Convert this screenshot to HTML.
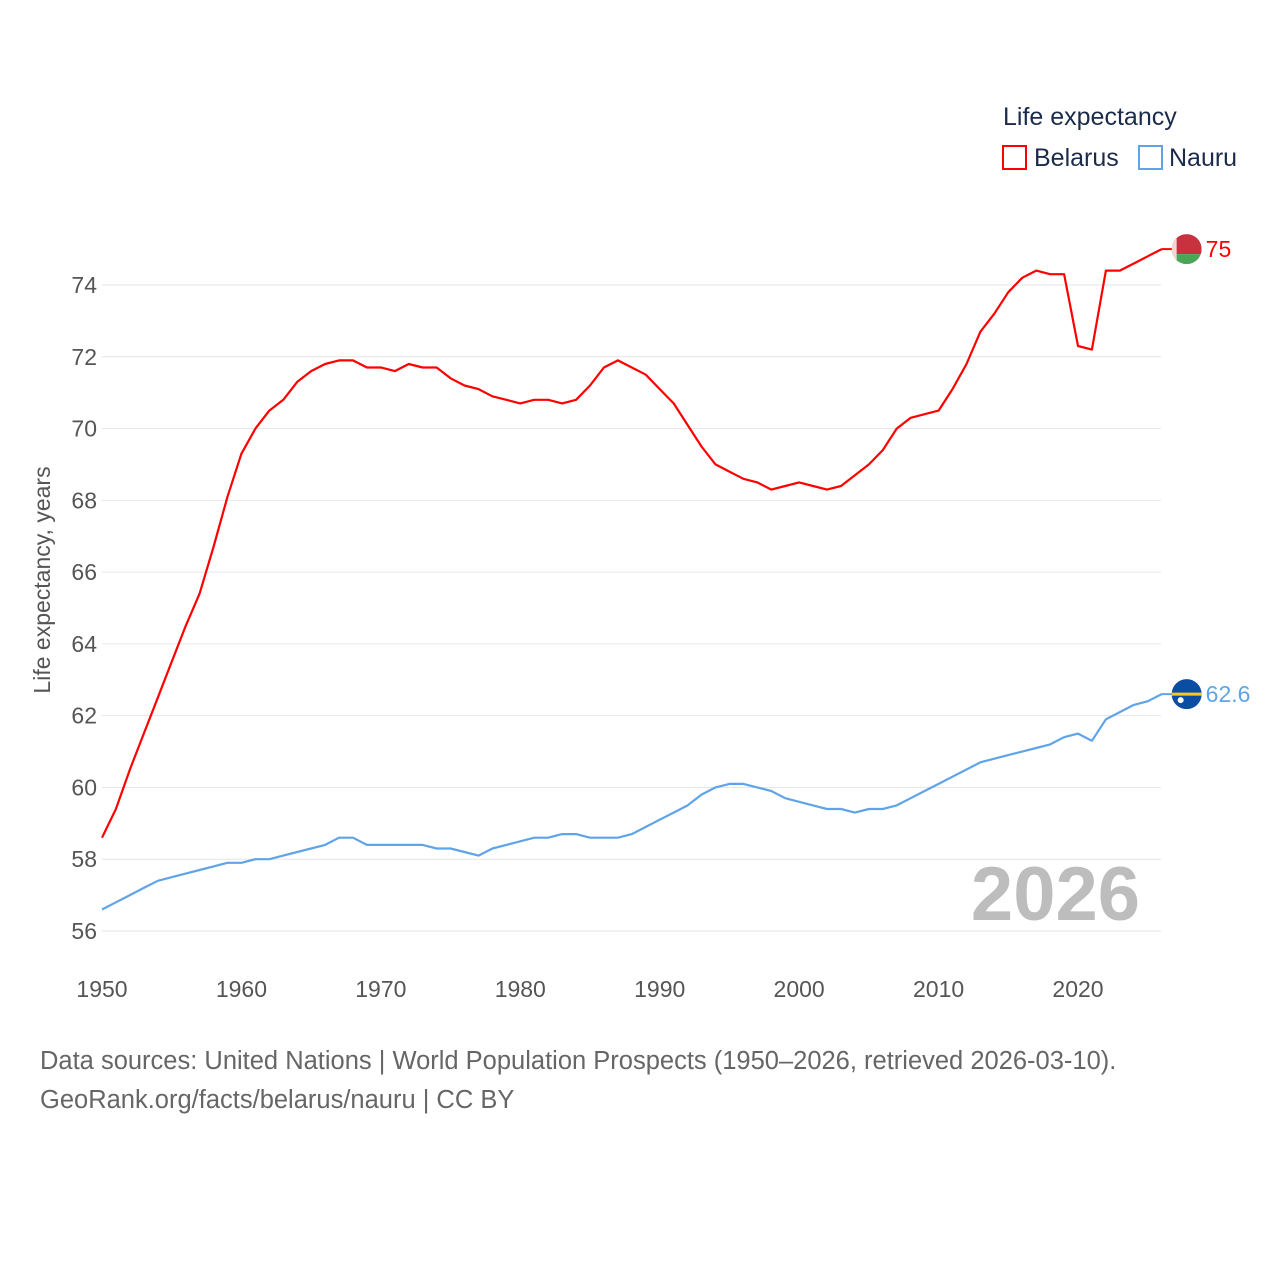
<!DOCTYPE html>
<html><head><meta charset="utf-8"><style>
body{margin:0;background:#fff;font-family:"Liberation Sans",sans-serif}
svg{display:block}
</style></head><body>
<svg id="chart" width="1280" height="1280" xmlns="http://www.w3.org/2000/svg">
<text x="1003" y="125" font-size="25" fill="#1b2b4b">Life expectancy</text>
<g><rect x="1003" y="146" width="23" height="23" fill="none" stroke="#f00" stroke-width="2"/><text x="1034" y="166" font-size="25" fill="#1b2b4b">Belarus</text></g>
<g><rect x="1139" y="146" width="23" height="23" fill="none" stroke="#5fa4e8" stroke-width="2"/><text x="1169" y="166" font-size="25" fill="#1b2b4b">Nauru</text></g>
<g id="grid"></g>
<g id="yticks"></g>
<g id="xticks"></g>
<text transform="translate(50,580) rotate(-90)" text-anchor="middle" font-size="23" fill="#555">Life expectancy, years</text>
<text x="1140" y="920" text-anchor="end" font-size="76" font-weight="bold" fill="#bdbdbd">2026</text>
<g id="series"></g>
<text x="40" y="1069" font-size="25.5" fill="#666">Data sources: United Nations | World Population Prospects (1950–2026, retrieved 2026-03-10).</text>
<text x="40" y="1108" font-size="25.5" fill="#666">GeoRank.org/facts/belarus/nauru | CC BY</text>
</svg>
<script>
const belarus=[58.6,59.4,60.5,61.5,62.5,63.5,64.5,65.4,66.7,68.1,69.3,70.0,70.5,70.8,71.3,71.6,71.8,71.9,71.9,71.7,71.7,71.6,71.8,71.7,71.7,71.4,71.2,71.1,70.9,70.8,70.7,70.8,70.8,70.7,70.8,71.2,71.7,71.9,71.7,71.5,71.1,70.7,70.1,69.5,69.0,68.8,68.6,68.5,68.3,68.4,68.5,68.4,68.3,68.4,68.7,69.0,69.4,70.0,70.3,70.4,70.5,71.1,71.8,72.7,73.2,73.8,74.2,74.4,74.3,74.3,72.3,72.2,74.4,74.4,74.6,74.8,75.0];
const nauru=[56.6,56.8,57.0,57.2,57.4,57.5,57.6,57.7,57.8,57.9,57.9,58.0,58.0,58.1,58.2,58.3,58.4,58.6,58.6,58.4,58.4,58.4,58.4,58.4,58.3,58.3,58.2,58.1,58.3,58.4,58.5,58.6,58.6,58.7,58.7,58.6,58.6,58.6,58.7,58.9,59.1,59.3,59.5,59.8,60.0,60.1,60.1,60.0,59.9,59.7,59.6,59.5,59.4,59.4,59.3,59.4,59.4,59.5,59.7,59.9,60.1,60.3,60.5,60.7,60.8,60.9,61.0,61.1,61.2,61.4,61.5,61.3,61.9,62.1,62.3,62.4,62.6];
const yTicks=[56,58,60,62,64,66,68,70,72,74];
const xTicks=[1950,1960,1970,1980,1990,2000,2010,2020];
const startYear=1950;
const NS="http://www.w3.org/2000/svg";
const X=y=>102+(y-1950)*(976/70);
const Y=v=>931-(v-56)*(646/18);
function mk(tag,attrs,parent){const e=document.createElementNS(NS,tag);for(const k in attrs)e.setAttribute(k,attrs[k]);parent.appendChild(e);return e;}
const grid=document.getElementById('grid'),yt=document.getElementById('yticks'),xt=document.getElementById('xticks'),ser=document.getElementById('series');
yTicks.forEach(v=>{
  const l=mk('line',{x1:102,x2:1161,y1:Y(v),y2:Y(v),stroke:'#e6e6e6','stroke-width':1},grid);
  
  
  const t=mk('text',{x:97,y:Y(v)+8,'text-anchor':'end','font-size':23,fill:'#555'},yt);
  t.textContent=v;
  
  
});
xTicks.forEach(v=>{
  const t=mk('text',{x:X(v),y:997,'text-anchor':'middle','font-size':23,fill:'#555'},xt);
  t.textContent=v;
  
  
});
function line(data,color,name){
  const d=data.map((v,i)=>(i?'L':'M')+X(startYear+i).toFixed(1)+','+Y(v).toFixed(1)).join('');
  const p=mk('path',{d:d,fill:'none',stroke:color,'stroke-width':2.2,'stroke-linejoin':'round'},ser);
  
  
}
line(belarus,'#f00','belarus');
line(nauru,'#5fa4e8','nauru');
const lastB=belarus[belarus.length-1],lastN=nauru[nauru.length-1],lastYear=startYear+belarus.length-1;
const cb=Y(lastB),cx=X(lastYear)+25,cn=Y(lastN);
const e1=mk('line',{x1:X(lastYear),x2:cx-14,y1:cb,y2:cb,stroke:'#f00','stroke-width':2},ser);


const e2=mk('line',{x1:X(lastYear),x2:cx-14,y1:cn,y2:cn,stroke:'#5fa4e8','stroke-width':2},ser);


const fb=mk('g',{},ser);


const cp=mk('clipPath',{id:'cpb'},fb);
mk('circle',{cx:cx,cy:cb,r:15},cp);
const gb=mk('g',{'clip-path':'url(#cpb)'},fb);
mk('rect',{x:cx-15,y:cb-15,width:30,height:20,fill:'#c8313e'},gb);
mk('rect',{x:cx-15,y:cb+5,width:30,height:10,fill:'#4aa657'},gb);
mk('rect',{x:cx-15,y:cb-15,width:5,height:30,fill:'#f3d6d8'},gb);
const tb=mk('text',{x:cx+19,y:cb+8,'font-size':23,fill:'#f00'},ser);
tb.textContent=lastB;


const fn=mk('g',{},ser);


mk('circle',{cx:cx,cy:cn,r:15,fill:'#0a4da2'},fn);
mk('rect',{x:cx-15,y:cn-1.5,width:30,height:3,fill:'#ffc61e'},fn);
mk('circle',{cx:cx-6,cy:cn+6,r:3,fill:'#fff'},fn);
const tn=mk('text',{x:cx+19,y:cn+8,'font-size':23,fill:'#5fa4e8'},ser);
tn.textContent=lastN;


</script>
</body></html>
